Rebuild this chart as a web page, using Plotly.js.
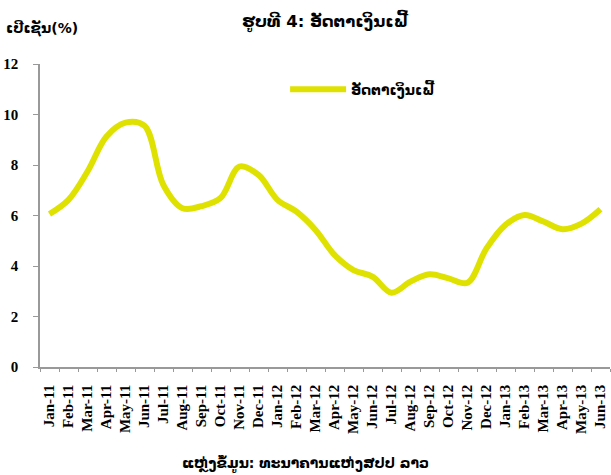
<!DOCTYPE html>
<html>
<head>
<meta charset="utf-8">
<script src="https://cdn.plot.ly/plotly-3.0.1.min.js"></script>
<style>html,body{margin:0;padding:0;background:#fff;}#chart{width:611px;height:475px;}</style>
</head>
<body>
<div id="chart"></div>
<script>
const months = ["Jan-11","Feb-11","Mar-11","Apr-11","May-11","Jun-11","Jul-11","Aug-11","Sep-11","Oct-11","Nov-11","Dec-11",
"Jan-12","Feb-12","Mar-12","Apr-12","May-12","Jun-12","Jul-12","Aug-12","Sep-12","Oct-12","Nov-12","Dec-12",
"Jan-13","Feb-13","Mar-13","Apr-13","May-13","Jun-13"];
const inflation = [6.06,6.62,7.74,9.13,9.68,9.55,7.2,6.29,6.37,6.69,7.94,7.61,
6.62,6.15,5.43,4.44,3.84,3.58,2.94,3.38,3.67,3.51,3.34,4.70,
5.63,6.02,5.76,5.46,5.68,6.25];
const yTicks = [0,2,4,6,8,10,12];
const seriesName = "ອັດຕາເງິນເຟີ້";
const chartTitle = "ຮູບທີ 4: ອັດຕາເງິນເຟີ້";
const yTitle = "ເປີເຊັນ(%)";
const sourceNote = "ແຫຼ່ງຂໍ້ມູນ: ທະນາຄານແຫ່ງສປປ ລາວ";

const laoFont = "DejaVu Sans, Noto Sans, sans-serif";
const serif = "Liberation Serif, Times New Roman, serif";

Plotly.newPlot("chart", [{
  x: months, y: inflation, type: "scatter", mode: "lines", name: seriesName,
  line: {color: "#dfe200", width: 6, shape: "spline", smoothing: 1}
}], {
  width: 611, height: 475,
  margin: {l: 40, r: 1, t: 64, b: 108},
  paper_bgcolor: "#fff", plot_bgcolor: "#fff",
  title: {text: chartTitle, x: 325/611, xanchor: "center", y: 0.955, yanchor: "middle",
          font: {family: laoFont, size: 16.5, color: "#000", weight: "bold"}},
  showlegend: true,
  legend: {x: 0.43, y: 0.915, xanchor: "left", yanchor: "middle", bgcolor: "rgba(0,0,0,0)",
           itemwidth: 56, font: {family: laoFont, size: 14, color: "#000", weight: "bold"}},
  xaxis: {type: "category", range: [-0.5, 29.5], showgrid: false, zeroline: false,
          showline: true, linecolor: "#999", linewidth: 1.5,
          ticks: "outside", ticklen: 3, tickcolor: "#999", tickson: "boundaries",
          tickangle: -90, ticklabelstandoff: 10,
          tickfont: {family: serif, size: 15, color: "#000", weight: "bold"}},
  yaxis: {range: [0, 12], tickvals: yTicks, showgrid: false, zeroline: false,
          showline: true, linecolor: "#999", linewidth: 1.5,
          ticks: "outside", ticklen: 5, tickcolor: "#999", ticklabelstandoff: 12,
          tickfont: {family: serif, size: 15, color: "#000", weight: "bold"}},
  annotations: [
    {text: yTitle, xref: "paper", yref: "paper", x: -36/570, y: (367-28)/303, xanchor: "left", yanchor: "middle",
     showarrow: false, font: {family: laoFont, size: 14, color: "#000", weight: "bold"}},
    {text: sourceNote, xref: "paper", yref: "paper", x: (305-40)/570, y: (367-464)/303, xanchor: "center", yanchor: "middle",
     showarrow: false, font: {family: laoFont, size: 14, color: "#000", weight: "bold"}}
  ]
}, {displayModeBar: false});
</script>
</body>
</html>
